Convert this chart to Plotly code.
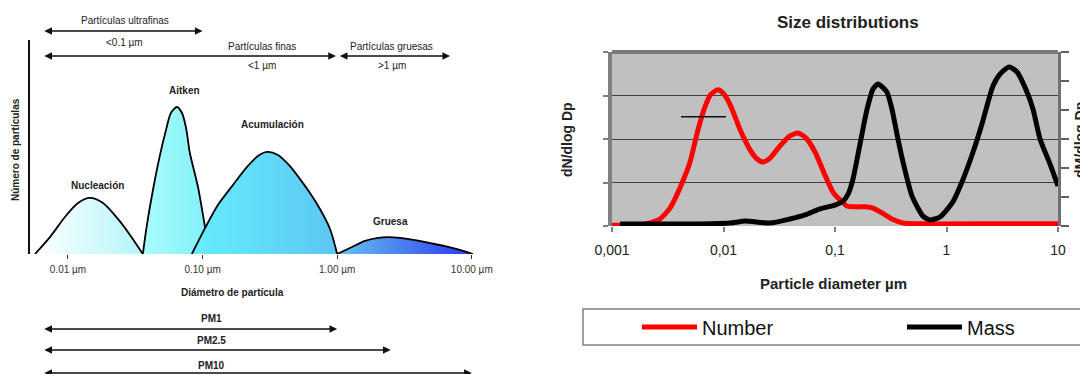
import numpy as np
import plotly.graph_objects as go

FONT = "Liberation Sans, Arial, sans-serif"
W, H = 1088, 374
OFF = 8  # page body margin of the html page

# ---------------- Left panel: modal distribution (diameter in µm, relative number) ----------------
nuc_d = [0.00569, 0.00735, 0.00950, 0.01187, 0.01457, 0.0182, 0.0235, 0.0289, 0.0360]
nuc_n = [0, 7.9, 17.3, 23.8, 26.2, 23.8, 16.4, 8.9, 0]

ait_d = [0.0360, 0.0386, 0.0428, 0.0483, 0.0535, 0.0582, 0.0646, 0.0703, 0.0754, 0.0805, 0.0925, 0.1043, 0.1135]
ait_n = [0, 13.6, 29.9, 46.3, 57.9, 65.9, 68.7, 65.9, 58.9, 47.2, 31.3, 12.6, 0]

acu_d = [0.0833, 0.1043, 0.130, 0.168, 0.214, 0.258, 0.301, 0.363, 0.446, 0.530, 0.628, 0.745, 0.885, 1.0]
acu_n = [0, 12.1, 22.9, 32.2, 40.7, 45.8, 47.7, 46.3, 41.1, 35.0, 28.5, 21.0, 11.7, 0]

gru_d = [1.0, 1.29, 1.61, 2.01, 2.38, 2.93, 3.79, 4.89, 6.32, 8.17, 10.2]
gru_n = [0, 3.3, 6.1, 7.5, 7.9, 7.5, 6.5, 5.1, 3.7, 1.9, 0]

mode_names = ["Nucleación", "Aitken", "Acumulación", "Gruesa"]
mode_label_d = [0.0167, 0.0739, 0.328, 2.47]
mode_label_n = [32.2, 76.2, 60.3, 15.0]

left_tick_vals = [0.01, 0.1, 1, 10]
left_tick_text = ["0.01 µm", "0.10 µm", "1.00 µm", "10.00 µm"]

class_names = ["Partículas ultrafinas", "Partículas finas", "Partículas gruesas"]
class_limits = ["<0.1 µm", "<1 µm", ">1 µm"]
class_lo = [0.0065, 0.0065, 1.02]
class_hi = [0.1, 0.98, 6.9]
class_label_d = [0.0265, 0.276, 2.55]

pm_names = ["PM1", "PM2.5", "PM10"]
pm_lo = [0.0065, 0.0065, 0.0065]
pm_hi = [1.0, 2.5, 10.0]
pm_label_d = 0.1175

# ---------------- Right panel: size distributions ----------------
num_d = [0.001, 0.00178, 0.00219, 0.00269, 0.00331, 0.00425, 0.00501, 0.00590, 0.00682, 0.00773,
         0.00893, 0.0101, 0.0117, 0.0141, 0.0173, 0.0200, 0.0226, 0.0261, 0.0321, 0.0394,
         0.0466, 0.0550, 0.0662, 0.0813, 0.0959, 0.111, 0.128, 0.151, 0.186, 0.219,
         0.264, 0.324, 0.407, 0.578, 3.02, 10.0]
num_v = [0.02, 0.02, 0.07, 0.16, 0.41, 0.99, 1.47, 2.21, 2.74, 3.03,
         3.13, 3.03, 2.74, 2.21, 1.75, 1.54, 1.47, 1.56, 1.84, 2.07,
         2.14, 2.02, 1.70, 1.17, 0.78, 0.60, 0.46, 0.44, 0.44, 0.41,
         0.30, 0.16, 0.07, 0.05, 0.05, 0.05]

mass_d = [0.00118, 0.00269, 0.00615, 0.0114, 0.0156, 0.0261, 0.0394, 0.0538, 0.0733, 0.1,
          0.118, 0.131, 0.145, 0.161, 0.178, 0.194, 0.219, 0.243, 0.292, 0.324,
          0.367, 0.407, 0.491, 0.615, 0.711, 0.875, 1.14, 1.41, 1.73, 2.08,
          2.61, 3.02, 3.64, 4.29, 5.27, 5.97, 6.90, 8.47, 10.0]
mass_v = [0.07, 0.07, 0.07, 0.10, 0.17, 0.10, 0.24, 0.38, 0.59, 0.72,
          0.86, 1.10, 1.62, 2.48, 3.34, 4.03, 4.72, 4.90, 4.62, 4.03,
          3.0, 2.21, 1.03, 0.34, 0.21, 0.31, 0.83, 1.62, 2.55, 3.52,
          4.83, 5.24, 5.48, 5.31, 4.62, 4.03, 3.0, 2.14, 1.38]

mark_d = [0.00416, 0.0105]
mark_v = [2.51, 2.51]

right_tick_vals = [0.001, 0.01, 0.1, 1, 10]
right_tick_text = ["0,001", "0,01", "0,1", "1", "10"]


def px_x(x):
    return (x - OFF) / W


def px_y(y):
    return 1 - (y - OFF) / H


fig = go.Figure()

mode_data = [
    (nuc_d, nuc_n, ["#ffffff", "#b4f4f8"]),
    (ait_d, ait_n, ["#aafcfc", "#7ff0fa"]),
    (acu_d, acu_n, ["#66eefc", "#5cc6f4"]),
    (gru_d, gru_n, ["#66c4f2", "#2a36ee"]),
]
for (d, n, cols), name in zip(mode_data, mode_names):
    fig.add_trace(go.Scatter(
        x=d, y=n, mode="lines", fill="toself",
        fillgradient=dict(type="horizontal", colorscale=[[0, cols[0]], [1, cols[1]]]),
        line=dict(color="black", width=1.8, shape="spline", smoothing=0.8),
        xaxis="x", yaxis="y", showlegend=False, hoverinfo="skip", name=name,
    ))

fig.add_trace(go.Scatter(x=num_d, y=num_v, mode="lines", name="Number",
                         line=dict(color="#ff0000", width=5, shape="spline", smoothing=0.6),
                         xaxis="x2", yaxis="y2"))
fig.add_trace(go.Scatter(x=mass_d, y=mass_v, mode="lines", name="Mass",
                         line=dict(color="#000000", width=5, shape="spline", smoothing=0.6),
                         xaxis="x2", yaxis="y3"))
fig.add_trace(go.Scatter(x=mark_d, y=mark_v, mode="lines", showlegend=False,
                         line=dict(color="#111111", width=1.5), xaxis="x2", yaxis="y2"))

ann = []


def text(x, y, t, size=10, bold=False, angle=0, color="#222222", xref="paper", yref="paper"):
    ann.append(dict(x=x, y=y, xref=xref, yref=yref, text=("<b>%s</b>" % t) if bold else t,
                    showarrow=False, textangle=angle, xanchor="center", yanchor="middle",
                    font=dict(family=FONT, size=size, color=color)))


def arrow(lo, hi, ypx):
    ann.append(dict(x=np.log10(hi), y=px_y(ypx), xref="x", yref="paper",
                    ax=np.log10(lo), ay=0, axref="x", ayref="pixel",
                    text="", showarrow=True, arrowhead=2, startarrowhead=2,
                    arrowside="end+start", arrowsize=1.1, startarrowsize=1.1,
                    arrowwidth=1.4, arrowcolor="#111111"))


# size class arrows
class_arrow_y = [31, 56, 56]
class_title_y = [20, 47, 47]
class_sub_y = [42, 66, 66]
for i in range(3):
    arrow(class_lo[i], class_hi[i], class_arrow_y[i])
    text(np.log10(class_label_d[i]), px_y(class_title_y[i]), class_names[i], xref="x")
    text(np.log10(class_label_d[i]), px_y(class_sub_y[i]), class_limits[i], xref="x")

# mode labels
for name, d, n in zip(mode_names, mode_label_d, mode_label_n):
    text(np.log10(d), n, name, bold=True, xref="x", yref="y")

text(px_x(15), px_y(150), "Número de partículas", bold=True, angle=-90)
text(px_x(232), px_y(292), "Diámetro de partícula", bold=True)

pm_arrow_y = [329, 350, 373]
pm_label_y = [318, 340, 365]
for i in range(3):
    arrow(pm_lo[i], pm_hi[i], pm_arrow_y[i])
    text(np.log10(pm_label_d), px_y(pm_label_y[i]), pm_names[i], bold=True, xref="x")

# right panel texts
text(px_x(848), px_y(22), "Size distributions", size=17, bold=True)
text(px_x(833), px_y(283), "Particle diameter µm", size=15, bold=True)
text(px_x(567), px_y(140), "dN/dlog Dp", size=14, bold=True, angle=-90)
text(px_x(1080), px_y(140), "dM/dlog Dp", size=14, bold=True, angle=-90)

shapes = [
    dict(type="rect", xref="x2 domain", yref="y2 domain", x0=0, x1=1, y0=0, y1=1,
         fillcolor="#c0c0c0", line=dict(width=0), layer="below"),
    dict(type="line", xref="x2 domain", yref="y2 domain", x0=0, x1=1, y0=1, y1=1,
         line=dict(color="#7a7a7a", width=4), layer="above"),
    dict(type="rect", xref="paper", yref="paper", x0=px_x(583), x1=1.01,
         y0=px_y(345), y1=px_y(309), line=dict(color="#808080", width=1.5),
         fillcolor="rgba(0,0,0,0)"),
]

fig.update_layout(
    width=W, height=H, margin=dict(l=0, r=0, t=0, b=0, autoexpand=False),
    paper_bgcolor="white", plot_bgcolor="rgba(0,0,0,0)",
    font=dict(family=FONT),
    annotations=ann, shapes=shapes,
    showlegend=True,
    legend=dict(orientation="h", x=px_x(637), y=px_y(327), xanchor="left", yanchor="middle",
                font=dict(family=FONT, size=20, color="#111111"), bgcolor="rgba(0,0,0,0)",
                entrywidth=195, entrywidthmode="pixels", itemwidth=55),
    xaxis=dict(type="log", domain=[px_x(30), px_x(475)], range=[-2.282, 1.024], anchor="y",
               tickvals=left_tick_vals, ticktext=left_tick_text, ticks="outside", ticklen=4,
               tickcolor="#333333", showgrid=False, zeroline=False, showline=False,
               tickfont=dict(size=10, color="#333333", family=FONT), ticklabelstandoff=2),
    yaxis=dict(domain=[px_y(254), px_y(40)], range=[0, 100], anchor="x", showgrid=False,
               zeroline=False, showticklabels=False, ticks="", showline=True,
               linecolor="#111111", linewidth=1.5),
    xaxis2=dict(type="log", domain=[px_x(612), px_x(1058)], range=[-3, 1], anchor="y2",
                tickvals=right_tick_vals, ticktext=right_tick_text, ticks="outside", ticklen=5,
                tickcolor="#808080", tickwidth=2, showgrid=False, zeroline=False, showline=False,
                tickfont=dict(size=14, color="#222222", family=FONT), ticklabelstandoff=6),
    yaxis2=dict(domain=[px_y(226), px_y(52)], range=[0, 4], anchor="x2", dtick=1,
                showgrid=True, gridcolor="#404040", gridwidth=1, zeroline=False,
                showticklabels=False, ticks="outside", ticklen=5, tickcolor="#808080",
                tickwidth=2, showline=True, linecolor="#808080", linewidth=4),
    yaxis3=dict(overlaying="y2", side="right", anchor="x2", range=[0, 6], dtick=1,
                showgrid=False, zeroline=False, showticklabels=False, ticks="outside",
                ticklen=8, tickcolor="#606060", tickwidth=2, showline=True,
                linecolor="#707070", linewidth=3),
)

fig.write_html("out.html")
